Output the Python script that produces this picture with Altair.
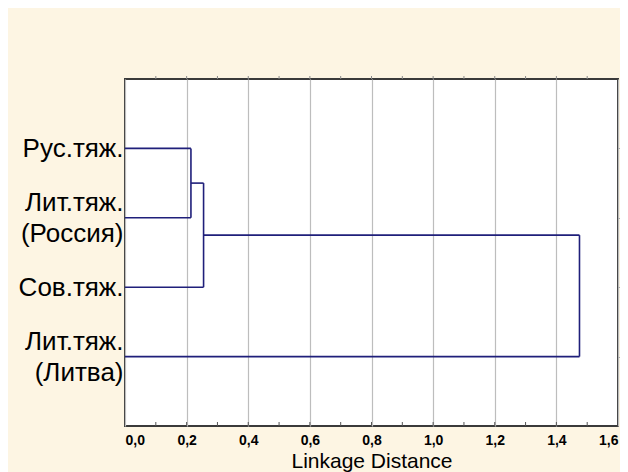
import json
import altair as alt
import pandas as pd

# ---- data ----
leaf_names = [["Рус.тяж."], ["Лит.тяж.", "(Россия)"], ["Сов.тяж."], ["Лит.тяж.", "(Литва)"]]
# merges: (child_a, child_b, linkage distance); leaves are nodes 0..3, merge k -> node 4+k
merges = [(0, 1, 0.214), (4, 2, 0.255), (5, 3, 1.475)]
x_major = [0.0, 0.2, 0.4, 0.6, 0.8, 1.0, 1.2, 1.4, 1.6]
x_minor = [0.1, 0.2, 0.3, 0.4, 0.5, 0.6, 0.7, 0.8, 0.9, 1.0, 1.1, 1.2, 1.3, 1.4, 1.5]

# ---- build dendrogram segments from merge data ----
node_x = {i: 0.0 for i in range(len(leaf_names))}
node_y = {i: float(i + 1) for i in range(len(leaf_names))}
segs = []
for k, (a, b, h) in enumerate(merges):
    n = len(leaf_names) + k
    for c in (a, b):
        segs.append({"x": node_x[c], "x2": h, "y": node_y[c], "y2": node_y[c]})
    segs.append({"x": h, "x2": h, "y": node_y[a], "y2": node_y[b]})
    node_x[n] = h
    node_y[n] = (node_y[a] + node_y[b]) / 2
seg_df = pd.DataFrame(segs)
leaf_df = pd.DataFrame({"pos": [i + 1 for i in range(len(leaf_names))]})
minor_df = pd.DataFrame({"t": x_minor})

W, H = 493, 347
FONT = "Arial, Liberation Sans, sans-serif"
LH = 31

expr = "''"
for i in reversed(range(len(leaf_names))):
    expr = f"datum.value == {i + 1} ? {json.dumps(leaf_names[i], ensure_ascii=False)} : ({expr})"
multi = [i + 1 for i, n in enumerate(leaf_names) if len(n) > 1]
offset_cond = {"condition": {"test": f"indexof({json.dumps(multi)}, datum.value) >= 0",
                             "value": -LH / 2}, "value": 0}

xscale = alt.Scale(domain=[0, 1.6], nice=False, zero=False)
yscale = alt.Scale(domain=[0, 5], reverse=True, nice=False, zero=False)

lines = alt.Chart(seg_df).mark_rule(color="#1f1f7a", strokeWidth=1.6).encode(
    x=alt.X("x:Q", scale=xscale, axis=alt.Axis(
        values=x_major, labelExpr="replace(format(datum.value, '.1f'), '.', ',')",
        labelFont=FONT, labelFontWeight="bold", labelFontSize=14, labelColor="#000",
        labelPadding=7, ticks=False, domain=False,
        grid=True, gridColor="#bdbdbd", gridWidth=1.2,
        title="Linkage Distance", titleFont=FONT, titleFontSize=21,
        titleFontWeight="normal", titleColor="#000", titlePadding=3)),
    x2="x2:Q",
    y=alt.Y("y:Q", scale=yscale, axis=alt.Axis(
        values=[i + 1 for i in range(len(leaf_names))], labelExpr=expr,
        labelFont=FONT, labelFontSize=26, labelLineHeight=LH, labelColor="#000",
        labelOffset=offset_cond,
        labelPadding=2, labelLimit=0, ticks=False, domain=False, grid=False, title=None)),
    y2="y2:Q",
)

right_ticks = alt.Chart(leaf_df).mark_point(opacity=0).encode(
    y=alt.Y("pos:Q", scale=yscale, axis=alt.Axis(
        orient="right", values=[i + 1 for i in range(len(leaf_names))], labels=False,
        ticks=True, tickSize=3, tickColor="#aaaaaa", domain=False, grid=False, title=None)),
    x=alt.value(W),
)

bottom_minor = alt.Chart(minor_df).mark_rule(color="#555555", strokeWidth=1).encode(
    x=alt.X("t:Q", scale=xscale), y=alt.value(H - 4), y2=alt.value(H))
top_minor = alt.Chart(minor_df).mark_rule(color="#888888", strokeWidth=1).encode(
    x=alt.X("t:Q", scale=xscale), y=alt.value(-3), y2=alt.value(0))

chart = alt.layer(lines, bottom_minor, top_minor, right_ticks).resolve_axis(
    y="independent").properties(
    width=W, height=H,
    autosize=alt.AutoSizeParams(type="none"),
    padding={"left": 117, "top": 71, "right": 2, "bottom": 46},
    background="#fdf5e3",
).configure_view(fill="white", stroke="#3a3a3a", strokeWidth=2)

chart.save("out.html", embed_options={"renderer": "svg", "actions": False})
